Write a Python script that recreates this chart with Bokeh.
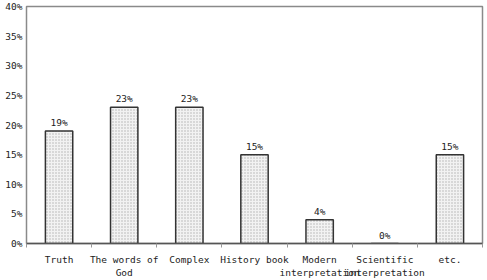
import numpy as np
from bokeh.plotting import figure
from bokeh.models import ColumnDataSource, FixedTicker, PrintfTickFormatter, Range1d
from bokeh.core.properties import value
from bokeh.embed import file_html
from bokeh.resources import INLINE

categories = ["Truth", "The words of\nGod", "Complex", "History book",
              "Modern\ninterpretation", "Scientific\ninterpretation", "etc."]
values = [19, 23, 23, 15, 4, 0, 15]
value_labels = ["19%", "23%", "23%", "15%", "4%", "0%", "15%"]
y_ticks = [0, 5, 10, 15, 20, 25, 30, 35, 40]

FONT = "DejaVu Sans Mono"

xs = np.arange(len(categories)) + 0.5
src = ColumnDataSource(dict(x=xs, top=values, lab=value_labels))

p = figure(width=487, height=280, output_backend="svg", toolbar_location=None,
           x_range=Range1d(0, len(categories)), y_range=Range1d(0, 40),
           min_border_left=26, min_border_right=5, min_border_top=6, min_border_bottom=8)
p.background_fill_color = "white"
p.border_fill_color = "white"
p.outline_line_color = "#8a8a8a"
p.outline_line_width = 1.5
p.xgrid.visible = False
p.ygrid.visible = False

p.vbar(x="x", top="top", bottom=0, width=0.42, source=src,
       fill_color="#f2f2f2", hatch_pattern="dot", hatch_color="#b0b0b0",
       hatch_scale=3, hatch_weight=0.8,
       line_color="#333333", line_width=1.5)

p.text(x="x", y="top", text="lab", source=src, text_align="center",
       text_baseline="bottom", y_offset=-3, text_font=value(FONT),
       text_font_size="9.5px", text_color="#222222")

xa = p.xaxis[0]
xa.ticker = FixedTicker(ticks=list(xs), minor_ticks=list(range(len(categories) + 1)))
xa.major_label_overrides = {float(x): c for x, c in zip(xs, categories)}
xa.major_tick_out = 0
xa.major_tick_in = 0
xa.minor_tick_out = 4
xa.minor_tick_in = 0
xa.minor_tick_line_color = "#999999"
xa.axis_line_color = "#555555"
xa.axis_line_width = 1.5
xa.major_label_text_font = FONT
xa.major_label_text_font_size = "9.5px"
xa.major_label_text_color = "#222222"
xa.major_label_standoff = 6

ya = p.yaxis[0]
ya.ticker = FixedTicker(ticks=y_ticks)
ya.formatter = PrintfTickFormatter(format="%d%%")
ya.major_tick_out = 0
ya.major_tick_in = 0
ya.minor_tick_out = 0
ya.minor_tick_in = 0
ya.axis_line_color = None
ya.major_label_text_font = FONT
ya.major_label_text_font_size = "9.5px"
ya.major_label_text_color = "#222222"
ya.major_label_standoff = 4

open("out.html", "w").write(file_html(p, INLINE))
